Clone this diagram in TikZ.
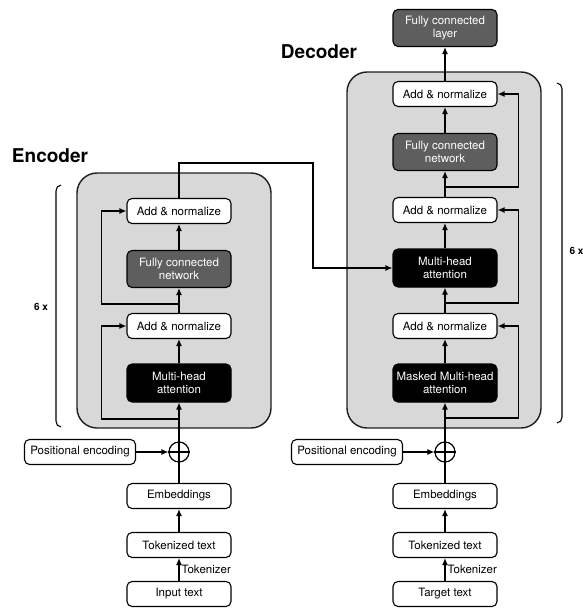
\documentclass[tikz,border=0pt]{standalone}
\usepackage{fontspec}
\setmainfont{TeX Gyre Heros}
\usetikzlibrary{arrows.meta}
\definecolor{contfill}{HTML}{D8D8D8}
\definecolor{fcgray}{HTML}{5E5E5E}
\definecolor{edge}{HTML}{1E1E1E}
\begin{document}
\begin{tikzpicture}[x=1pt,y=-1pt,
  every node/.style={font=\fontsize{11.5}{13}\selectfont},
  boxbase/.style={draw=black,line width=1.1pt,rounded corners=5pt,minimum width=104pt,inner sep=0pt,align=center},
  wbox/.style={boxbase,fill=white,minimum height=25pt},
  dbox/.style={boxbase,fill=fcgray,text=white,minimum height=37pt},
  bbox/.style={boxbase,fill=black,text=white,minimum height=38pt},
  cont/.style={draw=edge,line width=1.4pt,fill=contfill,rounded corners=20pt},
  arr/.style={line width=1.2pt,-{Latex[length=7pt,width=6pt]}},
  ln/.style={line width=1.2pt},
  plus/.style={draw=black,line width=1.2pt,circle,minimum size=20pt,inner sep=0pt,fill=white},
  title/.style={font=\fontsize{19}{22}\selectfont\bfseries},
  rep/.style={font=\fontsize{10}{12}\selectfont\bfseries},
  brk/.style={line width=1.1pt,draw=black}
]
\useasboundingbox (0,0) rectangle (582,610);

% ---------- Encoder ----------
\node[title] (enctitle) at (50,156) {Encoder};
\draw[cont] (77,173) rectangle (271,428);
\draw[brk] (61,185) to[out=180,in=90] (56,191) -- (56,421) to[out=-90,in=180] (61,427);
\node[rep] (encrep) at (41,307) {6 x};

\node[wbox] (eAddB) at (179,211) {Add \& normalize};
\node[dbox] (eFCN) at (179,269) {Fully connected\\network};
\node[wbox] (eAddA) at (179,326) {Add \& normalize};
\node[bbox] (eMHA) at (179,383) {Multi-head\\attention};
\node[plus] (ePlus) at (179,452) {};
\draw[line width=1.2pt] (ePlus.west) -- (ePlus.east) (ePlus.north) -- (ePlus.south);
\node[wbox,minimum width=111pt] (ePos) at (80,452) {Positional encoding};
\node[wbox] (eEmb) at (179,496) {Embeddings};
\node[wbox] (eTok) at (179,545) {Tokenized text};
\node[wbox] (eIn) at (179,594) {Input text};

\draw[arr] (eIn.north) -- node[right=1pt,inner sep=1pt] (etokl) {Tokenizer} (eTok.south);
\draw[arr] (eTok.north) -- (eEmb.south);
\draw[ln] (eEmb.north) -- (ePlus.south);
\draw[arr] (ePos.east) -- (ePlus.west);
\draw[arr] (ePlus.north) -- (eMHA.south);
\draw[arr] (eMHA.north) -- (eAddA.south);
\draw[arr] (eAddA.north) -- (eFCN.south);
\draw[arr] (eFCN.north) -- (eAddB.south);
\coordinate (es1) at (179,419);
\coordinate (es2) at (179,304);
\draw[arr] (es1) -| ([xshift=-25pt]eAddA.west) -- (eAddA.west);
\draw[arr] (es2) -| ([xshift=-25pt]eAddB.west) -- (eAddB.west);

% ---------- Decoder ----------
\node[title] (dectitle) at (319,52) {Decoder};
\draw[cont] (347,72) rectangle (541,428);
\draw[brk] (557,83) to[out=0,in=90] (562,89) -- (562,417) to[out=-90,in=0] (557,423);
\node[rep,anchor=west] (decrep) at (566,251) {6 x};

\node[dbox] (dFCL) at (445,28) {Fully connected\\layer};
\node[wbox] (dAddC) at (445,94) {Add \& normalize};
\node[dbox] (dFCN) at (445,152) {Fully connected\\network};
\node[wbox] (dAddB) at (445,210) {Add \& normalize};
\node[bbox] (dMHA) at (445,268) {Multi-head\\attention};
\node[wbox] (dAddA) at (445,326) {Add \& normalize};
\node[bbox] (dMMHA) at (445,383) {Masked Multi-head\\attention};
\node[plus] (dPlus) at (445,452) {};
\draw[line width=1.2pt] (dPlus.west) -- (dPlus.east) (dPlus.north) -- (dPlus.south);
\node[wbox,minimum width=111pt] (dPos) at (347,452) {Positional encoding};
\node[wbox] (dEmb) at (445,496) {Embeddings};
\node[wbox] (dTok) at (445,545) {Tokenized text};
\node[wbox] (dTgt) at (445,594) {Target text};

\draw[arr] (dTgt.north) -- node[right=1pt,inner sep=1pt] (dtokl) {Tokenizer} (dTok.south);
\draw[arr] (dTok.north) -- (dEmb.south);
\draw[ln] (dEmb.north) -- (dPlus.south);
\draw[arr] (dPos.east) -- (dPlus.west);
\draw[arr] (dPlus.north) -- (dMMHA.south);
\draw[arr] (dMMHA.north) -- (dAddA.south);
\draw[arr] (dAddA.north) -- (dMHA.south);
\draw[arr] (dMHA.north) -- (dAddB.south);
\draw[arr] (dAddB.north) -- (dFCN.south);
\draw[arr] (dFCN.north) -- (dAddC.south);
\draw[arr] (dAddC.north) -- (dFCL.south);
\coordinate (ds1) at (445,418);
\coordinate (ds2) at (445,303);
\coordinate (ds3) at (445,187);
\draw[arr] (ds1) -| ([xshift=21pt]dAddA.east) -- (dAddA.east);
\draw[arr] (ds2) -| ([xshift=21pt]dAddB.east) -- (dAddB.east);
\draw[arr] (ds3) -| ([xshift=21pt]dAddC.east) -- (dAddC.east);

% ---------- Encoder to decoder ----------
\coordinate (cross) at (313,163);
\draw[arr] (eAddB.north) |- (cross) |- (dMHA.west);
\end{tikzpicture}
\end{document}
